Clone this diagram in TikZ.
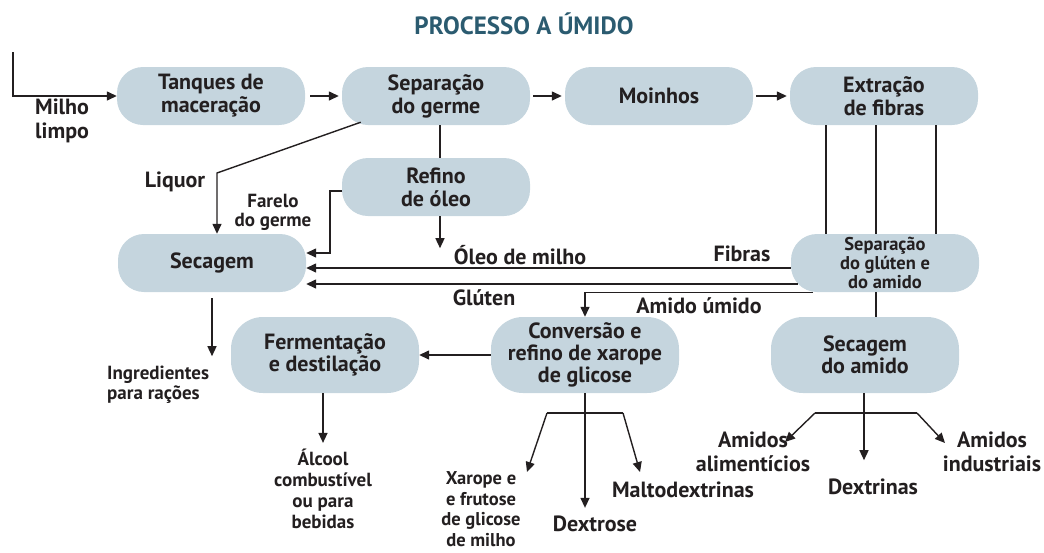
\documentclass[tikz,border=0pt]{standalone}
\usepackage{fontspec}
\setmainfont{PT Sans}
\usetikzlibrary{arrows.meta,calc}
\definecolor{boxfill}{HTML}{C5D5DE}
\definecolor{titlec}{HTML}{2B5B70}
\definecolor{ink}{HTML}{231F20}
\begin{document}
\begin{tikzpicture}[x=1pt,y=-1pt,
 box/.style={fill=boxfill, rounded corners=26pt, minimum width=188pt, minimum height=58pt, inner sep=0pt, align=center, font=\bfseries\fontsize{22}{23}\selectfont, text=ink},
 tall/.style={box, minimum height=76pt, rounded corners=32pt, font=\bfseries\fontsize{22}{22}\selectfont},
 lbl/.style={font=\bfseries\fontsize{22}{24}\selectfont, text=ink, inner sep=0pt, align=center},
 sml/.style={font=\bfseries\fontsize{19}{21}\selectfont, text=ink, inner sep=0pt, align=center},
 flow/.style={draw=ink, line width=1.4pt, -{Triangle[length=10pt,width=9pt]}},
 ln/.style={draw=ink, line width=1.4pt}]
\useasboundingbox (0,0) rectangle (1044,552);

\node[font=\bfseries\fontsize{25}{26}\selectfont, text=titlec] (title) at (524,24) {PROCESSO A ÚMIDO};

% boxes
\node[box] (tanq) at (211,96) {Tanques de\\maceração};
\node[box] (sepg) at (436,96) {Separação\\do germe};
\node[box] (moin) at (659,96) {Moinhos};
\node[box] (ext) at (884,96) {Extração\\de fibras};
\node[box] (ref) at (436,187) {Refino\\de óleo};
\node[box] (sec) at (212,263) {Secagem};
\node[box, font=\bfseries\fontsize{18.5}{19}\selectfont] (sepgl) at (885,263) {Separação\\do glúten e\\do amido};
\node[tall] (ferm) at (325,355) {Fermentação\\e destilação};
\node[tall] (conv) at (585,355) {Conversão e\\refino de xarope\\de glicose};
\node[tall] (secam) at (865,355) {Secagem\\do amido};

% labels
\node[lbl, anchor=west, align=left] (milho) at (35,121) {Milho\\limpo};
\node[lbl] (liq) at (175,182) {Liquor};
\node[sml, font=\bfseries\fontsize{19}{19}\selectfont] (far) at (273,212) {Farelo\\do germe};
\node[lbl] (oleo) at (520,255) {Óleo de milho};
\node[lbl] (fib) at (742,254) {Fibras};
\node[lbl] (glu) at (484,298) {Glúten};
\node[lbl] (amu) at (699,306) {Amido úmido};
\node[sml, anchor=west, align=left, font=\bfseries\fontsize{19}{20}\selectfont] (ingr) at (107,385) {Ingredientes\\para rações};
\node[sml] (alc) at (323,489) {Álcool\\combustível\\ou para\\bebidas};
\node[sml, font=\bfseries\fontsize{18.5}{20.5}\selectfont] (xar) at (481,509) {Xarope e\\e frutose\\de glicose\\de milho};
\node[lbl] (dex) at (595,524) {Dextrose};
\node[lbl] (malt) at (683,490) {Maltodextrinas};
\node[lbl] (amal) at (753,452) {Amidos\\alimentícios};
\node[lbl] (dxt) at (873,487) {Dextrinas};
\node[lbl] (amin) at (992,452) {Amidos\\industriais};

% connectors
\coordinate (start) at (13,52);
\draw[flow] (start) |- (tanq.west);
\draw[flow, shorten <=5pt, shorten >=3pt] (tanq) -- (sepg);
\draw[flow, shorten <=3pt, shorten >=3pt] (sepg) -- (moin);
\draw[flow, shorten <=3pt, shorten >=3pt] (moin) -- (ext);

\coordinate (lq) at (217,173);
\draw[flow] ([xshift=19pt,yshift=3pt]sepg.south west) -- (lq) -- (lq |- sec.north);
\draw[ln] ([xshift=4pt]sepg.south) -- ([xshift=4pt]ref.north);
\coordinate (fa) at ([xshift=-12pt,yshift=-4pt]ref.west);
\draw[flow] ([yshift=-4pt]ref.west) -- (fa) |- ([yshift=10pt]sec.east);
\coordinate (ol) at ([xshift=4pt,yshift=-32pt]ref.south);
\draw[flow] ([xshift=4pt]ref.south) -- (ol);

\draw[flow] ([yshift=-5pt]sepgl.west) -- ([yshift=-5pt]sec.east);
\coordinate (g1) at ([xshift=7pt,yshift=-21pt]sepgl.west);
\draw[flow] (g1) -- (g1 -| sec.east);
\draw[flow] ([xshift=-72pt]sepgl.south) -| (conv.north);

\foreach \dx in {-58,-8,52}
  \draw[ln] ([xshift=\dx pt]ext.south) -- ([xshift=\dx pt]ext.south |- sepgl.north);
\draw[ln] ([xshift=-9pt]sepgl.south) -- ([xshift=-9pt]sepgl.south |- secam.north);

\draw[flow] (conv.west) -- (ferm.east);
\coordinate (ig) at ([yshift=-64pt]sec.south);
\draw[flow] ([yshift=-6pt]sec.south) -- (ig);
\draw[flow, shorten >=6pt] ([xshift=-2pt]ferm.south) -- (alc.north);

% conversion branches
\coordinate (cbl) at (547,413);
\coordinate (cbr) at (623,413);
\coordinate (cl) at (527,472);
\coordinate (cr) at (640,472);
\draw[ln] (cbl) -- (cbr);
\draw[flow] (cbl) -- (cl);
\draw[flow] (cbr) -- (cr);
\draw[flow, shorten >=8pt] (conv.south) -- (conv.south |- dex.north);

% starch branches
\coordinate (sbl) at (815,413);
\coordinate (sbr) at (917,413);
\coordinate (sl) at (785,442);
\coordinate (sr) at (945,443);
\coordinate (sm) at ([xshift=-1pt,yshift=-67pt]secam.south);
\draw[ln] (sbl) -- (sbr);
\draw[flow] (sbl) -- (sl);
\draw[flow] (sbr) -- (sr);
\draw[flow] ([xshift=-1pt]secam.south) -- (sm);
\end{tikzpicture}
\end{document}
